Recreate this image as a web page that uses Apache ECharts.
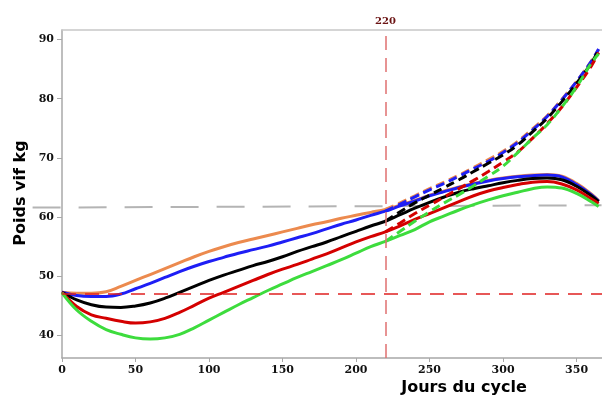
<!DOCTYPE html>
<html><head><meta charset="utf-8">
<script src="https://cdn.jsdelivr.net/npm/echarts@6/dist/echarts.min.js"></script>
<style>html,body{margin:0;padding:0;background:#fff}#c{width:602px;height:399px}</style>
</head><body><div id="c"></div>
<script>
// Days of the cycle (solid curves)
const days   = [0,10,20,30,40,50,60,70,80,90,100,110,120,130,140,150,160,170,180,190,200,210,220,230,240,250,260,270,280,290,300,310,320,330,340,350,360,365];
const orange = [47.3,47.15,47.15,47.4,48.3,49.3,50.3,51.3,52.3,53.3,54.2,55.0,55.7,56.3,56.9,57.5,58.1,58.7,59.2,59.8,60.3,60.8,61.3,62.0,62.8,63.7,64.4,65.1,65.7,66.2,66.6,66.9,67.1,67.2,66.9,65.7,63.9,62.8];
const blue   = [47.3,46.75,46.6,46.6,47.0,47.9,48.8,49.8,50.8,51.7,52.5,53.2,53.9,54.5,55.1,55.8,56.5,57.2,58.0,58.8,59.5,60.3,61.0,61.9,62.7,63.6,64.3,65.0,65.6,66.1,66.5,66.8,67.0,67.1,66.8,65.5,63.8,62.7];
const black  = [47.3,46.0,45.2,44.8,44.75,45.0,45.5,46.3,47.3,48.3,49.3,50.2,51.0,51.8,52.5,53.3,54.2,55.0,55.8,56.7,57.6,58.5,59.3,60.4,61.5,62.5,63.4,64.2,64.8,65.3,65.8,66.2,66.5,66.6,66.3,65.2,63.6,62.6];
const red    = [47.3,44.9,43.5,42.9,42.4,42.1,42.3,42.9,43.9,45.1,46.3,47.3,48.3,49.3,50.3,51.2,52.0,52.9,53.8,54.8,55.8,56.7,57.5,58.5,59.6,60.6,61.6,62.6,63.6,64.4,65.0,65.5,65.9,66.0,65.6,64.6,63.1,62.3];
const green  = [47.2,44.3,42.4,41.0,40.2,39.6,39.4,39.6,40.2,41.3,42.6,43.9,45.2,46.4,47.6,48.7,49.8,50.8,51.8,52.8,53.9,55.0,55.9,56.9,57.9,59.2,60.2,61.2,62.1,62.9,63.6,64.2,64.8,65.1,64.9,64.0,62.6,61.8];

// Projected (dashed) curves from day 220
const daysProj   = [220,230,240,250,260,270,280,290,300,310,320,330,340,350,360,365];
const orangeProj = [61.3,62.4,63.6,64.8,65.9,67.1,68.4,69.7,71.1,72.8,74.9,77.1,79.9,82.9,86.3,88.3];
const blueProj   = [61.0,62.2,63.4,64.6,65.7,66.9,68.2,69.4,70.9,72.6,74.7,77.0,79.8,82.9,86.3,88.4];
const blackProj  = [59.3,60.9,62.4,63.7,65.0,66.3,67.7,69.1,70.5,72.2,74.4,76.7,79.5,82.6,86.0,88.2];
const redProj    = [57.5,59.0,60.6,62.0,63.4,64.8,66.2,67.7,69.3,71.0,73.3,75.8,78.6,81.9,85.5,87.8];
const greenProj  = [55.9,57.6,59.3,60.9,62.4,63.8,65.3,66.9,68.6,70.9,73.3,75.6,78.6,82.0,86.0,87.6];

// Reference lines
const refDay = 220;
const refWeight = 47;
const greyLineX = [-20, 367];
const greyLineY = [61.6, 62.0];

// Tick labels
const xTicks = [0,50,100,150,200,250,300,350];
const yTicks = [40,50,60,70,80,90];

const colors = {orange:'#ec8a4e', blue:'#1e1ef5', black:'#000000', red:'#d40000', green:'#3ddc3d'};

const X_MIN = 0, X_MAX = 367.3, Y_MIN = 36.2, Y_MAX = 91.6;
const GRID_LEFT = 62, GRID_RIGHT = 0, GRID_TOP = 30, GRID_BOTTOM = 41;
const plotW = 602 - GRID_LEFT - GRID_RIGHT;
// second (hidden) grid with the same scale, extended left so the grey line can start before day 0
const ext = greyLineX[0];
const grid2Left = GRID_LEFT + ext * plotW / (X_MAX - X_MIN);

const zip = (xs, ys) => xs.map((x, i) => [x, ys[i]]);
const solid = (name, ys, c) => ({
  type:'line', name, data: zip(days, ys), smooth:0.4, symbol:'none',
  lineStyle:{color:c, width:3}, itemStyle:{color:c}, z:3
});
const dashed = (name, ys, c) => ({
  type:'line', name, data: zip(daysProj, ys), smooth:0.4, symbol:'none',
  lineStyle:{color:c, width:3, type:[9,5]}, itemStyle:{color:c}, z:4
});

const chart = echarts.init(document.getElementById('c'), null, {renderer:'canvas'});
const labelFont = {fontFamily:'DejaVu Serif', fontWeight:'bold', fontSize:11, color:'#111'};

chart.setOption({
  animation:false,
  backgroundColor:'#fff',
  grid:[
    {left:GRID_LEFT, right:GRID_RIGHT, top:GRID_TOP, bottom:GRID_BOTTOM, containLabel:false},
    {left:grid2Left, right:GRID_RIGHT, top:GRID_TOP, bottom:GRID_BOTTOM, containLabel:false}
  ],
  xAxis:[{
    type:'value', min:X_MIN, max:X_MAX, splitNumber:7,
    axisLine:{show:true, lineStyle:{color:'#a8a8a8', width:1.5}},
    axisTick:{show:true, length:4, lineStyle:{color:'#a8a8a8'}},
    splitLine:{show:false},
    axisLabel:Object.assign({margin:7, showMaxLabel:false,
      formatter:v => xTicks.includes(v) ? String(v) : ''}, labelFont)
  },{
    type:'value', position:'top', min:X_MIN, max:X_MAX,
    axisLine:{show:true, onZero:false, lineStyle:{color:'#c8c8c8', width:1.5}},
    axisTick:{show:false}, axisLabel:{show:false}, splitLine:{show:false}
  },{
    type:'value', gridIndex:1, min:ext, max:X_MAX, show:false
  }],
  yAxis:[{
    type:'value', min:Y_MIN, max:Y_MAX, splitNumber:5,
    axisLine:{show:true, lineStyle:{color:'#a8a8a8', width:1.5}},
    axisTick:{show:true, length:5, lineStyle:{color:'#a8a8a8'}},
    splitLine:{show:false},
    axisLabel:Object.assign({margin:8, showMinLabel:false, showMaxLabel:false,
      formatter:v => yTicks.includes(v) ? String(v) : ''}, labelFont)
  },{
    type:'value', gridIndex:1, min:Y_MIN, max:Y_MAX, show:false
  }],
  series:[
    {
      type:'line', xAxisIndex:2, yAxisIndex:1, data: zip(greyLineX, greyLineY), symbol:'none',
      lineStyle:{color:'#b4b4b4', width:2, type:[28,18]}, z:1
    },
    {
      type:'line', data:[], symbol:'none',
      markLine:{
        silent:true, symbol:'none',
        data:[
          {xAxis:refDay, lineStyle:{color:'#e07070', width:1.5, type:[14,8]},
           label:{show:true, position:'end', distance:4, formatter:String(refDay),
             fontFamily:'DejaVu Serif', fontWeight:'bold', fontSize:10, color:'#6b1414'}},
          {yAxis:refWeight, lineStyle:{color:'#e02020', width:1.5, type:[14,9]}, label:{show:false}}
        ]
      }
    },
    solid('orange', orange, colors.orange),
    solid('blue', blue, colors.blue),
    solid('black', black, colors.black),
    solid('red', red, colors.red),
    solid('green', green, colors.green),
    dashed('orangeP', orangeProj, colors.orange),
    dashed('blueP', blueProj, colors.blue),
    dashed('blackP', blackProj, colors.black),
    dashed('redP', redProj, colors.red),
    dashed('greenP', greenProj, colors.green)
  ],
  graphic:[
    {type:'text', x:464, y:388, style:{text:'Jours du cycle', fontFamily:'DejaVu Sans', fontWeight:'bold', fontSize:16, fill:'#000', align:'center', verticalAlign:'middle'}},
    {type:'text', x:21, y:193, rotation:Math.PI/2, style:{text:'Poids vif kg', fontFamily:'DejaVu Sans', fontWeight:'bold', fontSize:16, fill:'#000', align:'center', verticalAlign:'middle'}}
  ]
});
</script>
</body></html>
